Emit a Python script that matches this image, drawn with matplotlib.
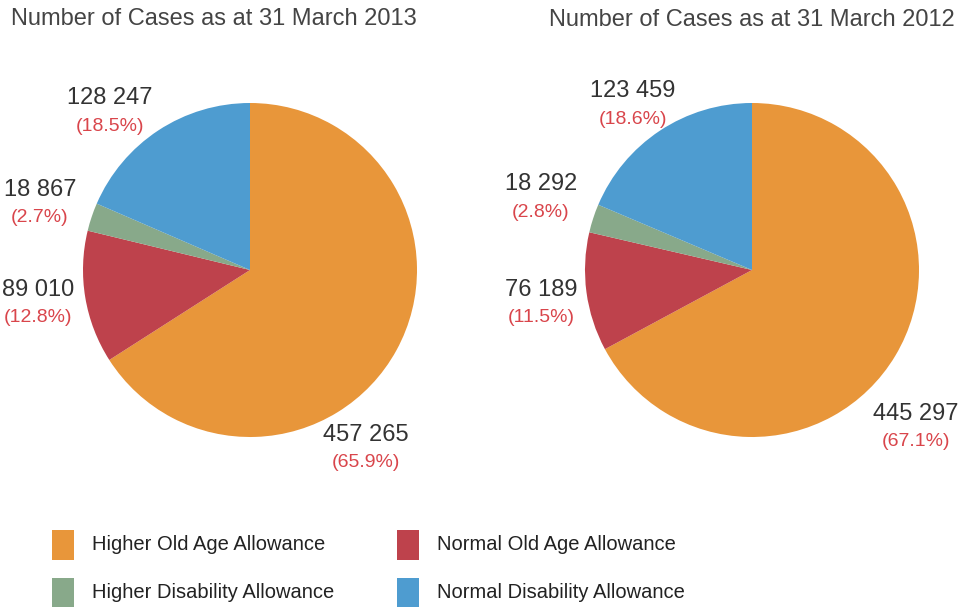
import matplotlib.pyplot as plt
from matplotlib.patches import Rectangle

plt.rcParams['font.family'] = ['Liberation Sans', 'DejaVu Sans']

categories = ['Higher Old Age Allowance', 'Normal Old Age Allowance',
              'Higher Disability Allowance', 'Normal Disability Allowance']
colors = ['#E8963A', '#BE424C', '#88A98A', '#4E9CD0']
titles = ['Number of Cases as at 31 March 2013', 'Number of Cases as at 31 March 2012']
cases_2013 = [457265, 89010, 18867, 128247]
cases_2012 = [445297, 76189, 18292, 123459]

W, H = 962, 607
fig = plt.figure(figsize=(W / 100, H / 100), dpi=100)
ax = fig.add_axes([0, 0, 1, 1])

# pie centres (pixels) and label anchor points for each slice
centers = [(250, 270), (752, 270)]
radius = 167
label_pos = [
    [(366, 435), (38, 290), (40, 190), (110, 98)],
    [(916, 414), (541, 290), (541, 184), (633, 91)],
]
title_pos = [(214, 19), (752, 20)]

for k, vals in enumerate([cases_2013, cases_2012]):
    cx, cy = centers[k]
    # y axis is inverted: start at -90 (screen top), angles grow clockwise on screen
    ax.pie(vals, colors=colors, startangle=-90, counterclock=True,
           center=(cx, cy), radius=radius, frame=True,
           wedgeprops=dict(linewidth=0))
    total = sum(vals)
    for v, (lx, ly) in zip(vals, label_pos[k]):
        ax.text(lx, ly, f'{v:,}'.replace(',', ' '), ha='center', va='center',
                fontsize=17, color='#333333')
        ax.text(lx, ly + 28, f'({100 * v / total:.1f}%)', ha='center', va='center',
                fontsize=14, color='#D9454B')
    ax.text(title_pos[k][0], title_pos[k][1], titles[k], ha='center', va='center',
            fontsize=17, color='#444444')

ax.set_xlim(0, W)
ax.set_ylim(H, 0)
ax.set_aspect('equal')
ax.axis('off')

# legend drawn manually
leg_x = [52, 397]
leg_y = [545, 593]
for i, (cat, col) in enumerate(zip(categories, colors)):
    lx = leg_x[i % 2]
    ly = leg_y[i // 2]
    ax.add_patch(Rectangle((lx, ly - 15), 22, 30, color=col, lw=0))
    ax.text(lx + 40, ly, cat, ha='left', va='center', fontsize=14.5, color='#222222')

fig.savefig('out.png', dpi=100)
